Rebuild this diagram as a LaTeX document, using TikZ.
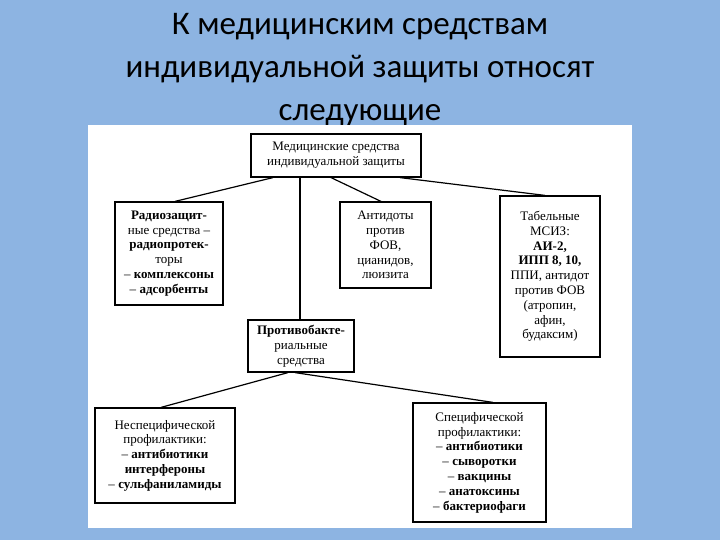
\documentclass[tikz,border=0pt]{standalone}
\usepackage{fontspec}
\setmainfont{Liberation Serif}
\newfontfamily\titlefont{Carlito}
\begin{document}
\begin{tikzpicture}[x=1pt,y=-1pt,
  bx/.style={draw=black,line width=1.2pt,align=center,inner sep=0pt,font=\fontsize{13}{14.8}\selectfont},
  ln/.style={line width=1.2pt}]
\useasboundingbox (0,0) rectangle (720,540);
\fill[fill={rgb,255:red,141;green,180;blue,226}] (0,0) rectangle (720,540);
\node[font=\titlefont\fontsize{33}{43}\selectfont,align=center] (title) at (360,70) {К медицинским средствам\\индивидуальной защиты относят\\следующие};
\fill[white] (88,125) rectangle (632,528);
\node[bx,minimum width=170,minimum height=43] (top) at (336,155.5) {Медицинские средства\\индивидуальной защиты};
\node[bx,minimum width=108,minimum height=103] (rad) at (169,253.5) {\textbf{Радиозащит-}\\ные средства --\\\textbf{радиопротек-}\\торы\\-- \textbf{комплексоны}\\-- \textbf{адсорбенты}};
\node[bx,minimum width=91,minimum height=86] (ant) at (385.5,245) {Антидоты\\против\\ФОВ,\\цианидов,\\люизита};
\node[bx,minimum width=100,minimum height=161] (tab) at (550,276.5) {Табельные\\МСИЗ:\\\textbf{АИ-2,}\\\textbf{ИПП 8, 10,}\\ППИ, антидот\\против ФОВ\\(атропин,\\афин,\\будаксим)};
\node[bx,minimum width=106,minimum height=52] (pro) at (301,346) {\textbf{Противобакте-}\\риальные\\средства};
\node[bx,minimum width=140,minimum height=95] (non) at (165,455.5) {Неспецифической\\профилактики:\\-- \textbf{антибиотики}\\\textbf{интерфероны}\\-- \textbf{сульфаниламиды}};
\node[bx,minimum width=133,minimum height=119] (spe) at (479.5,462.5) {Специфической\\профилактики:\\-- \textbf{антибиотики}\\-- \textbf{сыворотки}\\-- \textbf{вакцины}\\-- \textbf{анатоксины}\\-- \textbf{бактериофаги}};
\draw[ln] (top.south -| 273,0) -- (rad.north -| 175,0);
\draw[ln] (top.south -| 300,0) -- (pro.north -| 300,0);
\draw[ln] (top.south -| 331,0) -- (ant.north -| 381,0);
\draw[ln] (top.south -| 400,0) -- (tab.north -| 545,0);
\draw[ln] (pro.south -| 288,0) -- (non.north -| 161,0);
\draw[ln] (pro.south -| 295,0) -- (spe.north -| 493,0);
\end{tikzpicture}
\end{document}
